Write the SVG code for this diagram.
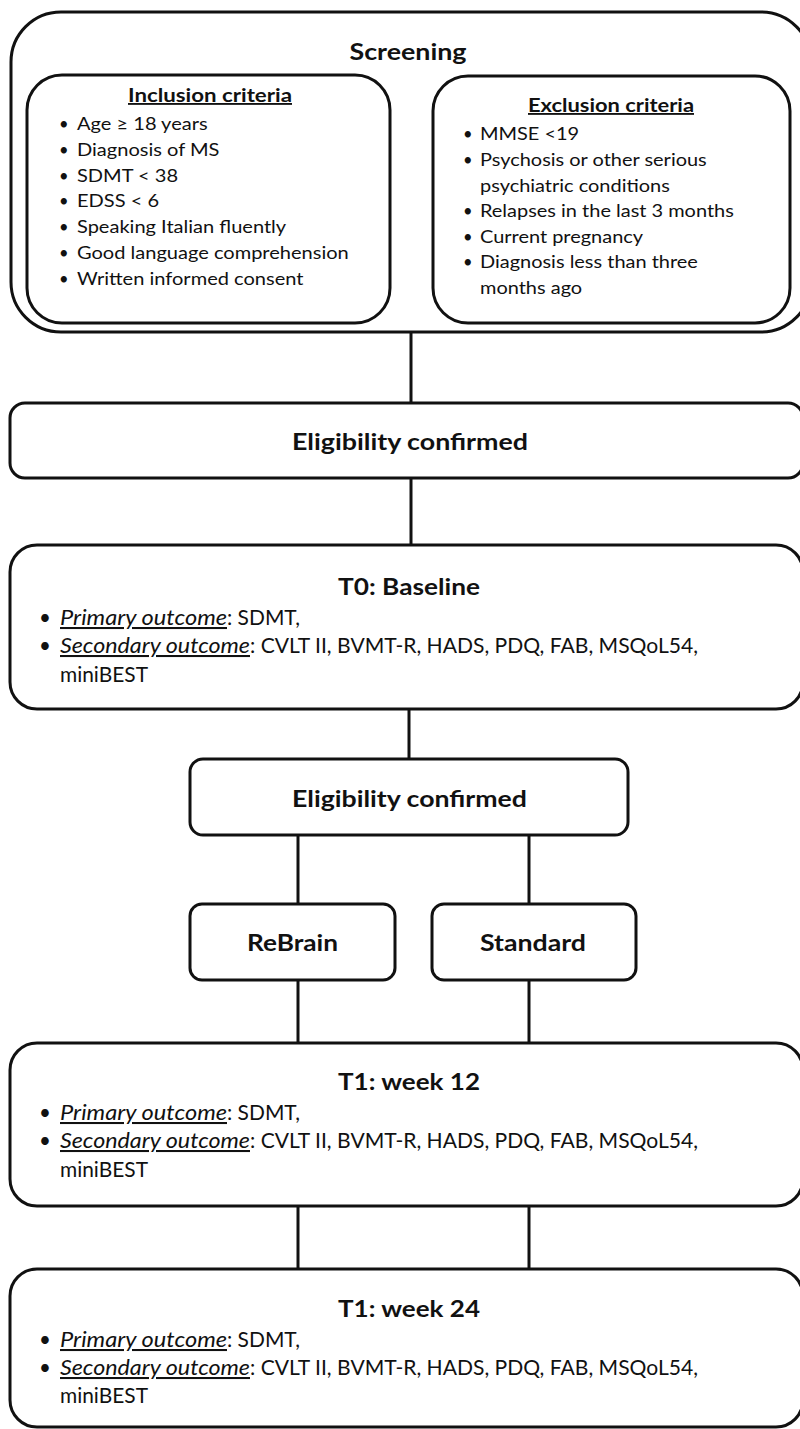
<svg xmlns="http://www.w3.org/2000/svg" width="800" height="1429" viewBox="0 0 800 1429">
<style>
.box{fill:#fff;stroke:#111;stroke-width:3}
.con{stroke:#111;stroke-width:3;fill:none}
text{font-family:Lato,"Open Sans","Liberation Sans",sans-serif;fill:#111}
.t{font-weight:bold;font-size:23.5px;text-anchor:middle}
.h{font-weight:bold;font-size:18.5px;text-anchor:middle;text-decoration:underline}
.li{font-size:16.5px}
.lo{font-size:20.5px}
.u{font-style:italic;text-decoration:underline}
</style>
<rect width="800" height="1429" fill="#fff"/>
<g id="connectors">
<line class="con" x1="411" y1="332" x2="411" y2="403"/>
<line class="con" x1="411" y1="478" x2="411" y2="545"/>
<line class="con" x1="409" y1="709" x2="409" y2="759"/>
<line class="con" x1="298" y1="835" x2="298" y2="904"/>
<line class="con" x1="529" y1="835" x2="529" y2="904"/>
<line class="con" x1="298" y1="980" x2="298" y2="1043"/>
<line class="con" x1="529" y1="980" x2="529" y2="1043"/>
<line class="con" x1="298" y1="1206" x2="298" y2="1269"/>
<line class="con" x1="529" y1="1206" x2="529" y2="1269"/>
</g>
<g id="screening">
<rect class="box" x="11" y="12" width="800" height="320" rx="50"/>
<text class="t" x="408" y="60" textLength="117" lengthAdjust="spacingAndGlyphs">Screening</text>
</g>
<g id="inclusion">
<rect class="box" x="27" y="75" width="363" height="248" rx="35"/>
<text class="h" x="210" y="102" textLength="164" lengthAdjust="spacingAndGlyphs">Inclusion criteria</text>
<g class="li">
<text x="59" y="130">•</text>
<text x="59" y="156">•</text>
<text x="59" y="182">•</text>
<text x="59" y="207">•</text>
<text x="59" y="233">•</text>
<text x="59" y="259">•</text>
<text x="59" y="285">•</text>
<g transform="translate(77 0) scale(1.215 1) translate(-77 0)">
<text x="77" y="130">Age ≥ 18 years</text>
<text x="77" y="156">Diagnosis of MS</text>
<text x="77" y="182">SDMT &lt; 38</text>
<text x="77" y="207">EDSS &lt; 6</text>
<text x="77" y="233">Speaking Italian fluently</text>
<text x="77" y="259">Good language comprehension</text>
<text x="77" y="285">Written informed consent</text>
</g>
</g>
</g>
<g id="exclusion">
<rect class="box" x="433" y="76" width="357" height="247" rx="35"/>
<text class="h" x="611" y="112" textLength="166" lengthAdjust="spacingAndGlyphs">Exclusion criteria</text>
<g class="li">
<text x="463" y="140">•</text>
<text x="463" y="166">•</text>
<text x="463" y="217">•</text>
<text x="463" y="243">•</text>
<text x="463" y="268">•</text>
<g transform="translate(480 0) scale(1.21 1) translate(-480 0)">
<text x="480" y="140">MMSE &lt;19</text>
<text x="480" y="166">Psychosis or other serious</text>
<text x="480" y="192">psychiatric conditions</text>
<text x="480" y="217">Relapses in the last 3 months</text>
<text x="480" y="243">Current pregnancy</text>
<text x="480" y="268">Diagnosis less than three</text>
<text x="480" y="294">months ago</text>
</g>
</g>
</g>
<g id="eligibility1">
<rect class="box" x="10" y="403" width="793" height="75" rx="15"/>
<text class="t" x="410" y="450" textLength="236" lengthAdjust="spacingAndGlyphs">Eligibility confirmed</text>
</g>
<g id="t0">
<rect class="box" x="10" y="545" width="793" height="164" rx="27"/>
<text class="t" x="409" y="595" textLength="142" lengthAdjust="spacingAndGlyphs">T0: Baseline</text>
<g class="lo">
<text x="39" y="625">•</text>
<text class="u" x="60" y="625" textLength="167" lengthAdjust="spacingAndGlyphs">Primary outcome</text>
<text x="227" y="625" textLength="73" lengthAdjust="spacingAndGlyphs">: SDMT,</text>
<text x="39" y="653">•</text>
<text class="u" x="60" y="653" textLength="190" lengthAdjust="spacingAndGlyphs">Secondary outcome</text>
<text x="250" y="653" textLength="448" lengthAdjust="spacingAndGlyphs">: CVLT II, BVMT-R, HADS, PDQ, FAB, MSQoL54,</text>
<text x="60" y="682" textLength="88" lengthAdjust="spacingAndGlyphs">miniBEST</text>
</g>
</g>
<g id="eligibility2">
<rect class="box" x="190" y="759" width="438" height="76" rx="13"/>
<text class="t" x="409.5" y="807" textLength="235" lengthAdjust="spacingAndGlyphs">Eligibility confirmed</text>
</g>
<g id="rebrain">
<rect class="box" x="190" y="904" width="205" height="76" rx="12"/>
<text class="t" x="292.5" y="951" textLength="91" lengthAdjust="spacingAndGlyphs">ReBrain</text>
</g>
<g id="standard">
<rect class="box" x="432" y="904" width="204" height="76" rx="12"/>
<text class="t" x="533" y="951" textLength="106" lengthAdjust="spacingAndGlyphs">Standard</text>
</g>
<g id="t1w12">
<rect class="box" x="10" y="1043" width="793" height="163" rx="27"/>
<text class="t" x="409" y="1090" textLength="142" lengthAdjust="spacingAndGlyphs">T1: week 12</text>
<g class="lo">
<text x="39" y="1120">•</text>
<text class="u" x="60" y="1120" textLength="167" lengthAdjust="spacingAndGlyphs">Primary outcome</text>
<text x="227" y="1120" textLength="73" lengthAdjust="spacingAndGlyphs">: SDMT,</text>
<text x="39" y="1148">•</text>
<text class="u" x="60" y="1148" textLength="190" lengthAdjust="spacingAndGlyphs">Secondary outcome</text>
<text x="250" y="1148" textLength="448" lengthAdjust="spacingAndGlyphs">: CVLT II, BVMT-R, HADS, PDQ, FAB, MSQoL54,</text>
<text x="60" y="1177" textLength="88" lengthAdjust="spacingAndGlyphs">miniBEST</text>
</g>
</g>
<g id="t1w24">
<rect class="box" x="10" y="1269" width="793" height="158" rx="27"/>
<text class="t" x="409" y="1317" textLength="142" lengthAdjust="spacingAndGlyphs">T1: week 24</text>
<g class="lo">
<text x="39" y="1347">•</text>
<text class="u" x="60" y="1347" textLength="167" lengthAdjust="spacingAndGlyphs">Primary outcome</text>
<text x="227" y="1347" textLength="73" lengthAdjust="spacingAndGlyphs">: SDMT,</text>
<text x="39" y="1375">•</text>
<text class="u" x="60" y="1375" textLength="190" lengthAdjust="spacingAndGlyphs">Secondary outcome</text>
<text x="250" y="1375" textLength="448" lengthAdjust="spacingAndGlyphs">: CVLT II, BVMT-R, HADS, PDQ, FAB, MSQoL54,</text>
<text x="60" y="1403" textLength="88" lengthAdjust="spacingAndGlyphs">miniBEST</text>
</g>
</g>
</svg>
